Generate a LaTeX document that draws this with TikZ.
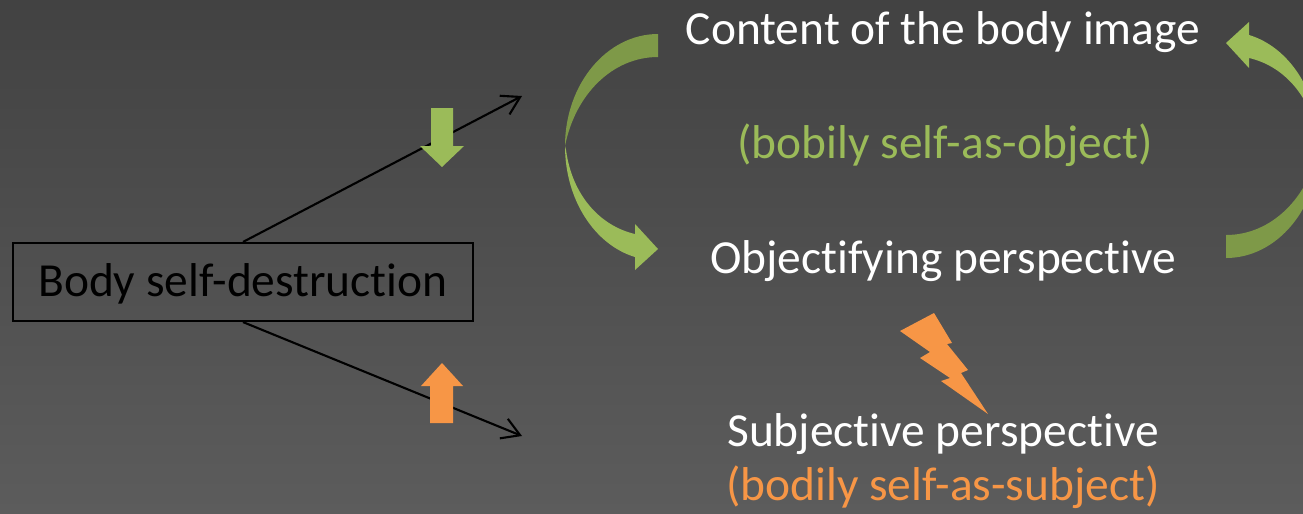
\documentclass[tikz,border=0pt]{standalone}
\usepackage{fontspec}
\setmainfont{Carlito}
\usetikzlibrary{arrows.meta}
\definecolor{bgtop}{RGB}{66,66,66}
\definecolor{bgbot}{RGB}{92,92,92}
\definecolor{olive}{RGB}{155,187,89}
\definecolor{darkolive}{RGB}{126,153,72}
\definecolor{tangerine}{RGB}{247,150,70}
\newcommand\ti{t\kern0pt i}
\begin{document}
\begin{tikzpicture}
\tikzstyle{every node}=[font=\fontsize{13.5}{16}\selectfont, inner sep=0pt]
\tikzstyle{txt}=[anchor=base, text=white]
\tikzstyle{link}=[line width=0.6pt, -{Straight Barb[length=5pt,width=6pt]}]

% background
\useasboundingbox (0,0) rectangle (13.03,5.13);
\shade[top color=bgtop, bottom color=bgbot] (0,0) rectangle (13.03,5.13);
\clip (0,0) rectangle (13.03,5.13);

% box and its two lines
\node[draw=black, line width=0.6pt, minimum width=4.6cm, minimum height=0.78cm,
  text height=11pt, text depth=2.5pt] (destr) at (2.43,2.31) {Body self-destruc\ti on};
\coordinate (up) at (5.22,4.17);
\coordinate (down) at (5.22,0.77);
\draw[link] (destr.north) -- (up);
\draw[link] (destr.south) -- (down);

% block arrows
\fill[olive] (4.31,4.05) -- (4.53,4.05) -- (4.53,3.67) -- (4.64,3.67) -- (4.42,3.46) -- (4.20,3.67) -- (4.31,3.67) -- cycle;
\fill[tangerine] (4.30,0.90) -- (4.53,0.90) -- (4.53,1.27) -- (4.63,1.27) -- (4.42,1.50) -- (4.21,1.27) -- (4.30,1.27) -- cycle;

% curved arrows
\foreach \r in {0,180}{
\begin{scope}[rotate around={\r:(9.42,3.67)}]
\fill[darkolive] (6.58,4.79) .. controls (6.07,4.79) and (5.65,4.29) .. (5.65,3.67)
  .. controls (5.75,4.18) and (6.12,4.56) .. (6.58,4.56) -- cycle;
\fill[olive] (5.65,3.67) .. controls (5.65,3.13) and (5.95,2.68) .. (6.35,2.56)
  -- (6.35,2.43) -- (6.58,2.64) -- (6.35,2.89) -- (6.35,2.79)
  .. controls (6.00,2.87) and (5.72,3.18) .. (5.66,3.63) -- cycle;
\end{scope}
}

% lightning
\fill[tangerine] (9.00,1.82) -- (9.34,2.00) -- (9.52,1.70) -- (9.47,1.69) -- (9.68,1.43) -- (9.61,1.40)
  -- (9.88,0.99) -- (9.41,1.32) -- (9.50,1.35) -- (9.20,1.55) -- (9.30,1.61) -- cycle;

% texts
\node[txt] (content) at (9.43,4.69) {Content of the body image};
\node[txt, text=olive] (asobject) at (9.45,3.55) {(bobily self-as-object)};
\node[txt] (objective) at (9.43,2.40) {Objec\ti fying perspec\ti ve};
\node[txt] (subjective) at (9.43,0.67) {Subjec\ti ve perspec\ti ve};
\node[txt, text=tangerine] (assubject) at (9.43,0.13) {(bodily self-as-subject)};
\end{tikzpicture}
\end{document}
